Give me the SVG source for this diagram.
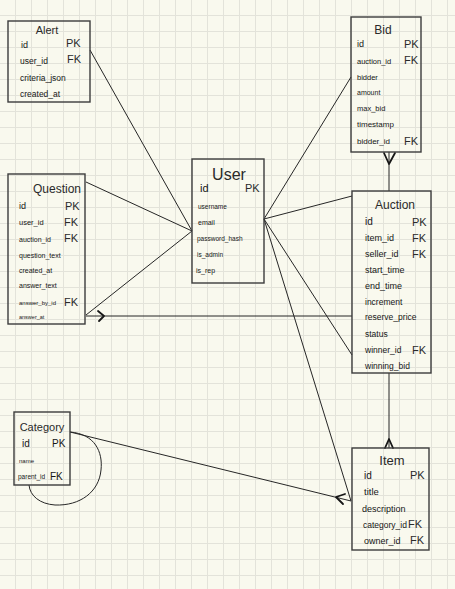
<svg xmlns="http://www.w3.org/2000/svg" width="455" height="589" viewBox="0 0 455 589">
<style>
.box{fill:none;stroke:#3c3c3c;stroke-width:1.4}
.t{font-family:"Liberation Sans",Arial,sans-serif;fill:#161616}
.ttl{font-family:"Liberation Sans",Arial,sans-serif;fill:#2a2a2a;text-anchor:middle}
.k{font-family:"Liberation Sans",Arial,sans-serif;fill:#2a2a2a;font-size:11px}
.ln{fill:none;stroke:#262626;stroke-width:1}
.hd{fill:none;stroke:#161616;stroke-width:1.8;stroke-linecap:round;stroke-linejoin:round}
</style>
<defs>
<pattern id="grid" patternUnits="userSpaceOnUse" width="16" height="16">
<path d="M15.5 0V16M0 15.5H16" stroke="#e3e3da" stroke-width="1" fill="none"/>
</pattern>
</defs>
<rect width="455" height="589" fill="#f9f9ee"/>
<rect width="455" height="589" fill="url(#grid)"/>

<g id="connectors">
<path class="ln" d="M90,50 L192,231"/>
<path class="ln" d="M86,182 L192,231"/>
<path class="ln" d="M86,315 L192,231"/>
<path class="ln" d="M264,219 L351,77"/>
<path class="ln" d="M264,219 L352,196"/>
<path class="ln" d="M264,219 L352,355"/>
<path class="ln" d="M264,219 L351,501"/>
<path class="ln" d="M70,432 L351,501"/>
<path class="hd" d="M345,494 L336,497 L343,504"/>
<path class="ln" d="M86,316 L352,316"/>
<path class="hd" d="M98,311 L104,316 L99,321"/>
<path class="ln" d="M389,152 L389,191"/>
<path class="hd" d="M384,153 L389,164 L395,153"/>
<path class="ln" d="M389,373 L389,448"/>
<path class="hd" d="M385,448 L389,439 L393,448"/>
<path class="ln" d="M70,432 C95,434 103,452 101,470 C99,492 80,506 55,505 C40,504 30,496 29,485"/>
</g>

<g id="alert">
<rect class="box" x="8" y="21" width="82" height="81"/>
<text class="ttl" x="47" y="34" font-size="11">Alert</text>
<text class="t" x="21" y="48" font-size="9">id</text>
<text class="t" x="20" y="64" font-size="8.5">user_id</text>
<text class="t" x="20" y="81" font-size="8.5">criteria_json</text>
<text class="t" x="20" y="97" font-size="8.5">created_at</text>
<text class="k" x="66" y="47">PK</text>
<text class="k" x="67" y="63">FK</text>
</g>

<g id="question">
<rect class="box" x="8" y="174" width="77" height="150"/>
<text class="ttl" x="57" y="193" font-size="12">Question</text>
<text class="t" x="19" y="209" font-size="9">id</text>
<text class="t" x="19" y="225" font-size="7.5">user_id</text>
<text class="t" x="19" y="242" font-size="7">auction_id</text>
<text class="t" x="19" y="258" font-size="7">question_text</text>
<text class="t" x="19" y="273" font-size="7">created_at</text>
<text class="t" x="19" y="288" font-size="7">answer_text</text>
<text class="t" x="19" y="305" font-size="6">answer_by_id</text>
<text class="t" x="19" y="319" font-size="5.5">answer_at</text>
<text class="k" x="65" y="210">PK</text>
<text class="k" x="64" y="226">FK</text>
<text class="k" x="64" y="242">FK</text>
<text class="k" x="64" y="306">FK</text>
</g>

<g id="user">
<rect class="box" x="192" y="159" width="72" height="124"/>
<text class="ttl" x="229" y="180" font-size="16">User</text>
<text class="t" x="200" y="192" font-size="11">id</text>
<text class="k" x="245" y="192">PK</text>
<text class="t" x="198" y="209" font-size="6.5">username</text>
<text class="t" x="198" y="225" font-size="7">email</text>
<text class="t" x="197" y="241" font-size="6.5">password_hash</text>
<text class="t" x="197" y="257" font-size="6.5">is_admin</text>
<text class="t" x="196" y="273" font-size="7">is_rep</text>
</g>

<g id="bid">
<rect class="box" x="351" y="17" width="70" height="135"/>
<text class="ttl" x="383" y="34" font-size="12">Bid</text>
<text class="t" x="357" y="47" font-size="9">id</text>
<text class="t" x="357" y="64" font-size="7.5">auction_id</text>
<text class="t" x="357" y="80" font-size="7.5">bidder</text>
<text class="t" x="357" y="95" font-size="7">amount</text>
<text class="t" x="357" y="111" font-size="7.5">max_bid</text>
<text class="t" x="357" y="127" font-size="8">timestamp</text>
<text class="t" x="357" y="144" font-size="8">bidder_id</text>
<text class="k" x="404" y="48">PK</text>
<text class="k" x="404" y="64">FK</text>
<text class="k" x="404" y="145">FK</text>
</g>

<g id="auction">
<rect class="box" x="352" y="191" width="79" height="182"/>
<text class="ttl" x="395" y="209" font-size="12">Auction</text>
<text class="t" x="365" y="225" font-size="10">id</text>
<text class="t" x="365" y="241" font-size="9">item_id</text>
<text class="t" x="365" y="257" font-size="9">seller_id</text>
<text class="t" x="365" y="273" font-size="9">start_time</text>
<text class="t" x="365" y="289" font-size="9">end_time</text>
<text class="t" x="365" y="305" font-size="8.5">increment</text>
<text class="t" x="365" y="320" font-size="8.5">reserve_price</text>
<text class="t" x="365" y="337" font-size="8.5">status</text>
<text class="t" x="365" y="353" font-size="8.5">winner_id</text>
<text class="t" x="365" y="369" font-size="8.5">winning_bid</text>
<text class="k" x="412" y="226">PK</text>
<text class="k" x="412" y="242">FK</text>
<text class="k" x="412" y="258">FK</text>
<text class="k" x="412" y="354">FK</text>
</g>

<g id="item">
<rect class="box" x="352" y="448" width="77" height="102"/>
<text class="ttl" x="392" y="465" font-size="13">Item</text>
<text class="t" x="364" y="479" font-size="10">id</text>
<text class="t" x="364" y="495" font-size="9.5">title</text>
<text class="t" x="362" y="512" font-size="9">description</text>
<text class="t" x="363" y="528" font-size="8.5">category_id</text>
<text class="t" x="364" y="544" font-size="9">owner_id</text>
<text class="k" x="410" y="479">PK</text>
<text class="k" x="408" y="528">FK</text>
<text class="k" x="410" y="544">FK</text>
</g>

<g id="category">
<rect class="box" x="14" y="412" width="56" height="73"/>
<text class="ttl" x="42" y="431" font-size="11">Category</text>
<text class="t" x="22" y="447" font-size="10">id</text>
<text class="t" x="52" y="447" font-size="10">PK</text>
<text class="t" x="19" y="463" font-size="6">name</text>
<text class="t" x="18" y="479" font-size="6.5">parent_id</text>
<text class="t" x="50" y="480" font-size="10">FK</text>
</g>
</svg>
